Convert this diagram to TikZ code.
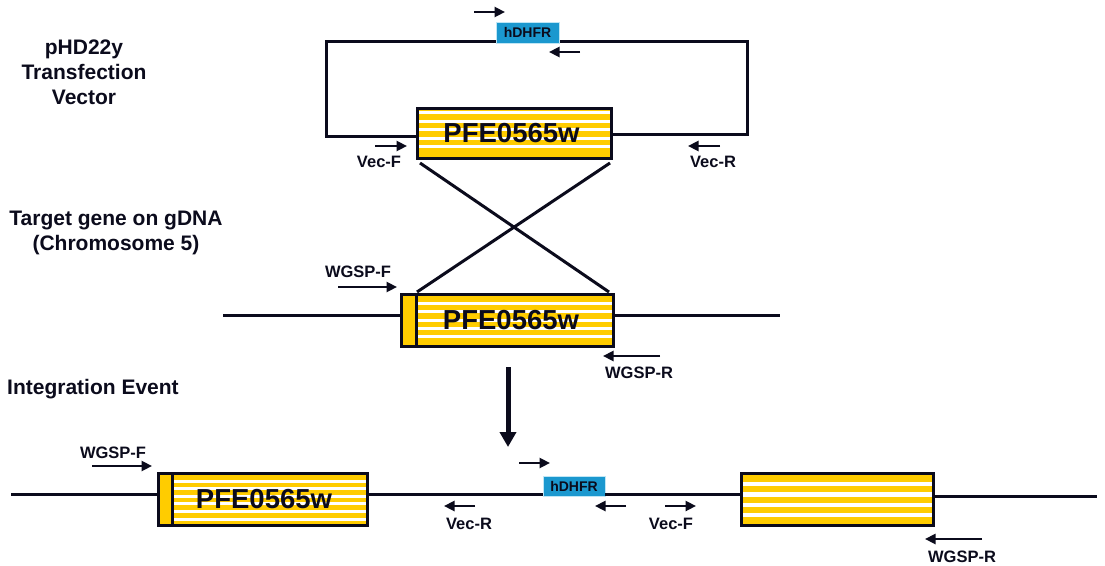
\documentclass[tikz,border=0pt]{standalone}
\usepackage{fontspec}
\setmainfont{Liberation Sans}
\usetikzlibrary{arrows.meta}
\definecolor{geneyellow}{HTML}{FFCC00}
\definecolor{dhfrblue}{HTML}{1B98CF}
\definecolor{dhfredge}{HTML}{BFE6F5}
\definecolor{inkdark}{HTML}{0B0B1C}
\begin{document}
\begin{tikzpicture}[x=1pt,y=-1pt,
  dna/.style={line width=3pt, draw=inkdark},
  gene/.style={draw=inkdark, line width=3pt, fill=geneyellow, inner sep=0pt},
  stripes/.style 2 args={path picture={%
    \foreach \o in {#1}{\fill[white] ([yshift={-\o pt}]path picture bounding box.north west) rectangle ([xshift=-2pt,yshift={-(\o+#2)*1pt}]path picture bounding box.north east);}}},
  genetext/.style={font=\fontsize{27.5}{30}\selectfont\bfseries, text=inkdark, inner sep=0pt},
  dhfr/.style={fill=dhfrblue, draw=dhfredge, line width=0.8pt, inner sep=0pt, font=\fontsize{14}{14}\selectfont\bfseries, text=inkdark},
  primer/.style={draw=inkdark, line width=2.5pt, -{Triangle[length=10.5pt,width=10pt]}},
  lbl/.style={font=\fontsize{16.5}{18}\selectfont\bfseries, text=inkdark, inner sep=0pt},
  sidelbl/.style={font=\fontsize{21}{25}\selectfont\bfseries, text=inkdark, align=center, inner sep=0pt},
  bigarrow/.style={draw=inkdark, line width=5pt, -{Triangle[length=15pt,width=16pt]}}
]
\fill[white] (0,0) rectangle (1105,565);
\useasboundingbox (0,0) rectangle (1105,565);

% ---------- side labels ----------
\node[sidelbl] (lvec) at (84,72) {pHD22y\\Transfection\\Vector};
\node[sidelbl] (ltarget) at (116,232.5) {Target gene on gDNA\\(Chromosome 5)};
\node[sidelbl, anchor=base west] (linteg) at (7,394) {Integration Event};

% ---------- transfection vector ----------
\node[gene, stripes={2.5,11,19.5,28,36.5}{3}, minimum width=194pt, minimum height=50pt] (vgene) at (514.5,133.5) {};
\node[genetext] (vtext) at ([xshift=-3pt]vgene.center) {PFE0565w};
\coordinate (vtl) at (326.5,41.5);
\coordinate (vtr) at (747.5,41.5);
\draw[dna, line join=miter] ([yshift=-2.5pt]vgene.west) -| (vtl) -- (vtr) |- ([yshift=-0.5pt]vgene.east);
\node[dhfr, minimum width=63pt, minimum height=21pt] (vdhfr) at (527.5,32.5) {hDHFR};

\coordinate (a1s) at (474,12);  \coordinate (a1e) at (505,12);
\coordinate (a2s) at (580,52);  \coordinate (a2e) at (549,52);
\coordinate (a3s) at (375,146); \coordinate (a3e) at (407,146);
\coordinate (a4s) at (720,146); \coordinate (a4e) at (688,146);
\draw[primer] (a1s) -- (a1e);
\draw[primer] (a2s) -- (a2e);
\draw[primer] (a3s) -- (a3e);
\draw[primer] (a4s) -- (a4e);
\node[lbl] (tvf) at (379,162) {Vec-F};
\node[lbl] (tvr) at (713,162) {Vec-R};

% ---------- target gene on gDNA ----------
\node[gene, minimum width=15pt, minimum height=52pt] (gsmall) at (409,320.5) {};
\node[gene, stripes={7.5,15.8,24.1,32.4,40.7}{3}, minimum width=197pt, minimum height=52pt] (ggene) at (515,320.5) {};
\node[genetext] (gtext) at ([xshift=-4pt]ggene.center) {PFE0565w};
\coordinate (ml) at (223,315.5);
\coordinate (mr) at (780,315.5);
\draw[dna] (ml) -- (ml -| gsmall.west);
\draw[dna] (ggene.east |- mr) -- (mr);

% crossover
\draw[dna] ([xshift=4pt,yshift=-3pt]vgene.south west) -- ([xshift=-6pt,yshift=1pt]ggene.north east);
\draw[dna] ([xshift=-3pt,yshift=-3pt]vgene.south east) -- ([xshift=2pt,yshift=1pt]ggene.north west);

\coordinate (b1s) at (338,287); \coordinate (b1e) at (397,287);
\coordinate (b2s) at (660,356); \coordinate (b2e) at (603,356);
\draw[primer] (b1s) -- (b1e);
\draw[primer] (b2s) -- (b2e);
\node[lbl] (twf1) at (358,272) {WGSP-F};
\node[lbl] (twr1) at (639,373) {WGSP-R};

% ---------- integration arrow ----------
\coordinate (bas) at (508,367);
\coordinate (bae) at (508,447);
\draw[bigarrow] (bas) -- (bae);

% ---------- integration event ----------
\node[gene, minimum width=14pt, minimum height=52pt] (bsmall) at (165.5,499.5) {};
\node[gene, stripes={6,13.6,21.2,28.8,36.4,44}{3}, minimum width=195pt, minimum height=52pt] (bgene) at (270,499.5) {};
\node[genetext] (btext) at ([xshift=-6pt]bgene.center) {PFE0565w};
\node[gene, stripes={8.5,18.7,29,39.5}{4.3}, minimum width=192pt, minimum height=52pt] (rgene) at (837.5,499.5) {};
\node[dhfr, minimum width=62pt, minimum height=20pt] (bdhfr) at (574,486) {hDHFR};
\coordinate (bl) at (11,494);
\coordinate (br) at (1097,496);
\draw[dna] (bl) -- (bl -| bsmall.west);
\draw[dna] (bgene.east |- bl) -- (bl -| bdhfr.west);
\draw[dna] (bdhfr.east |- bl) -- (bl -| rgene.west);
\draw[dna] (rgene.east |- br) -- (br);

\coordinate (c1s) at (92,466);  \coordinate (c1e) at (152,466);
\coordinate (c2s) at (519,463); \coordinate (c2e) at (550,463);
\coordinate (c3s) at (475,506); \coordinate (c3e) at (444,506);
\coordinate (c4s) at (626,506); \coordinate (c4e) at (595,506);
\coordinate (c5s) at (665,506); \coordinate (c5e) at (696,506);
\coordinate (c6s) at (982,539); \coordinate (c6e) at (925,539);
\draw[primer] (c1s) -- (c1e);
\draw[primer] (c2s) -- (c2e);
\draw[primer] (c3s) -- (c3e);
\draw[primer] (c4s) -- (c4e);
\draw[primer] (c5s) -- (c5e);
\draw[primer] (c6s) -- (c6e);
\node[lbl] (twf2) at (113,453) {WGSP-F};
\node[lbl] (tvr2) at (469,524) {Vec-R};
\node[lbl] (tvf2) at (671,524) {Vec-F};
\node[lbl] (twr2) at (962,557) {WGSP-R};
\end{tikzpicture}
\end{document}
